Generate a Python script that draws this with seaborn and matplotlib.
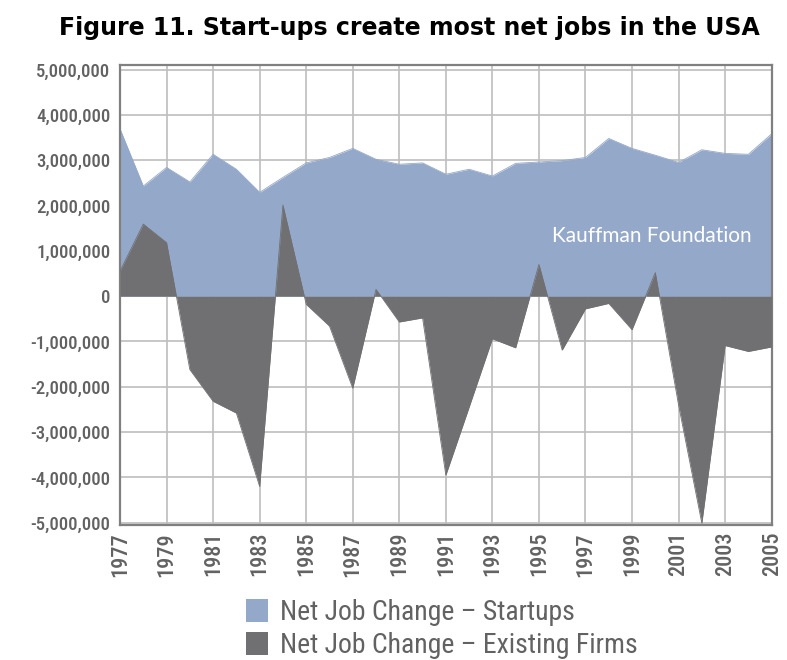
import numpy as np
import pandas as pd
import matplotlib
matplotlib.use("Agg")
import matplotlib.pyplot as plt
from matplotlib import font_manager
from matplotlib.ticker import FuncFormatter, MultipleLocator
from matplotlib.patches import Patch
import seaborn as sns

years = list(range(1977, 2006))
# net job change, millions
startups = [3.69, 2.43, 2.84, 2.52, 3.13, 2.80, 2.29, 2.62, 2.94, 3.06,
            3.26, 3.02, 2.91, 2.94, 2.69, 2.80, 2.65, 2.93, 2.96, 2.99,
            3.06, 3.48, 3.26, 3.11, 2.95, 3.23, 3.15, 3.13, 3.58]
existing = [0.55, 1.59, 1.18, -1.62, -2.32, -2.58, -4.20, 2.01, -0.18, -0.66,
            -2.03, 0.15, -0.57, -0.48, -3.95, -2.45, -0.94, -1.14, 0.70, -1.19,
            -0.28, -0.16, -0.74, 0.52, -2.40, -5.01, -1.09, -1.22, -1.12]
series_names = ["Net Job Change \u2013 Startups", "Net Job Change \u2013 Existing Firms"]
xtick_years = list(range(1977, 2006, 2))

df = pd.DataFrame({"year": years,
                   "startups": np.array(startups) * 1e6,
                   "existing": np.array(existing) * 1e6})

BLUE = "#94a8c9"
DARK = "#707072"
TICK = "#626262"


def pick_font(names):
    for n in names:
        try:
            font_manager.findfont(font_manager.FontProperties(family=n),
                                  fallback_to_default=False)
            return n
        except Exception:
            pass
    return "DejaVu Sans"


narrow = pick_font(["Liberation Sans Narrow", "DejaVu Sans Condensed",
                    "Roboto Condensed", "Open Sans Condensed", "Noto Sans Condensed",
                    "Roboto"])
is_condensed = narrow != "Roboto" and narrow != "DejaVu Sans"
NARROW = [narrow, "DejaVu Sans"]

sns.set_theme(style="whitegrid")
plt.rcParams["font.family"] = ["DejaVu Sans"]

fig = plt.figure(figsize=(7.87, 6.6), dpi=100)
ax = fig.add_axes([0.1525, 0.2045, 0.828, 0.697])

ax.fill_between(df["year"], 0, df["startups"], color=BLUE, linewidth=0, zorder=2)
ax.fill_between(df["year"], 0, df["existing"], color=DARK, linewidth=0, zorder=3)
sns.lineplot(data=df, x="year", y="startups", color=BLUE, linewidth=0.6, ax=ax, zorder=2)
sns.lineplot(data=df, x="year", y="existing", color=DARK, linewidth=0.6, ax=ax, zorder=3)

ax.set_xlim(1977, 2005)
ax.set_ylim(-5.05e6, 5.1e6)
ax.set_xticks(xtick_years)
ax.yaxis.set_major_locator(MultipleLocator(1e6))
ax.yaxis.set_major_formatter(FuncFormatter(lambda v, p: f"{v:,.0f}"))
ax.set_xlabel("")
ax.set_ylabel("")

ax.grid(True, color="#bebebe", linewidth=1.2)
ax.set_axisbelow(True)
for s in ax.spines.values():
    s.set_color("#808080")
    s.set_linewidth(1.6)

ysize = 13.5 if is_condensed else 12.5
xsize = 16 if is_condensed else 13.5
lsize = 20 if is_condensed else 17

ax.tick_params(axis="both", length=0, colors=TICK)
ax.tick_params(axis="y", pad=7)
ax.tick_params(axis="x", pad=5)
for lab in ax.get_yticklabels():
    lab.set_family(NARROW)
    lab.set_fontsize(ysize)
    lab.set_fontweight("medium")
for lab in ax.get_xticklabels():
    lab.set_family(NARROW)
    lab.set_fontsize(xsize)
    lab.set_fontweight("medium")
    lab.set_rotation(90)

ax.text(0.969, 0.628, "Kauffman Foundation", transform=ax.transAxes,
        ha="right", va="center", color="white", fontsize=15, family=["Lato", "DejaVu Sans"])

fig.text(0.52, 0.958, "Figure 11. Start-ups create most net jobs in the USA",
         ha="center", va="center", fontsize=17, fontweight="bold", color="black")

handles = [Patch(facecolor=BLUE, edgecolor="none"), Patch(facecolor=DARK, edgecolor="none")]
leg = fig.legend(handles, series_names, loc="upper left", bbox_to_anchor=(0.312, 0.092),
                 frameon=False, handlelength=0.8, handleheight=0.9, handletextpad=0.45,
                 labelspacing=0.2, borderaxespad=0, borderpad=0,
                 prop={"family": NARROW, "size": lsize})
for t in leg.get_texts():
    t.set_color(TICK)

fig.savefig("out.png", dpi=100)
